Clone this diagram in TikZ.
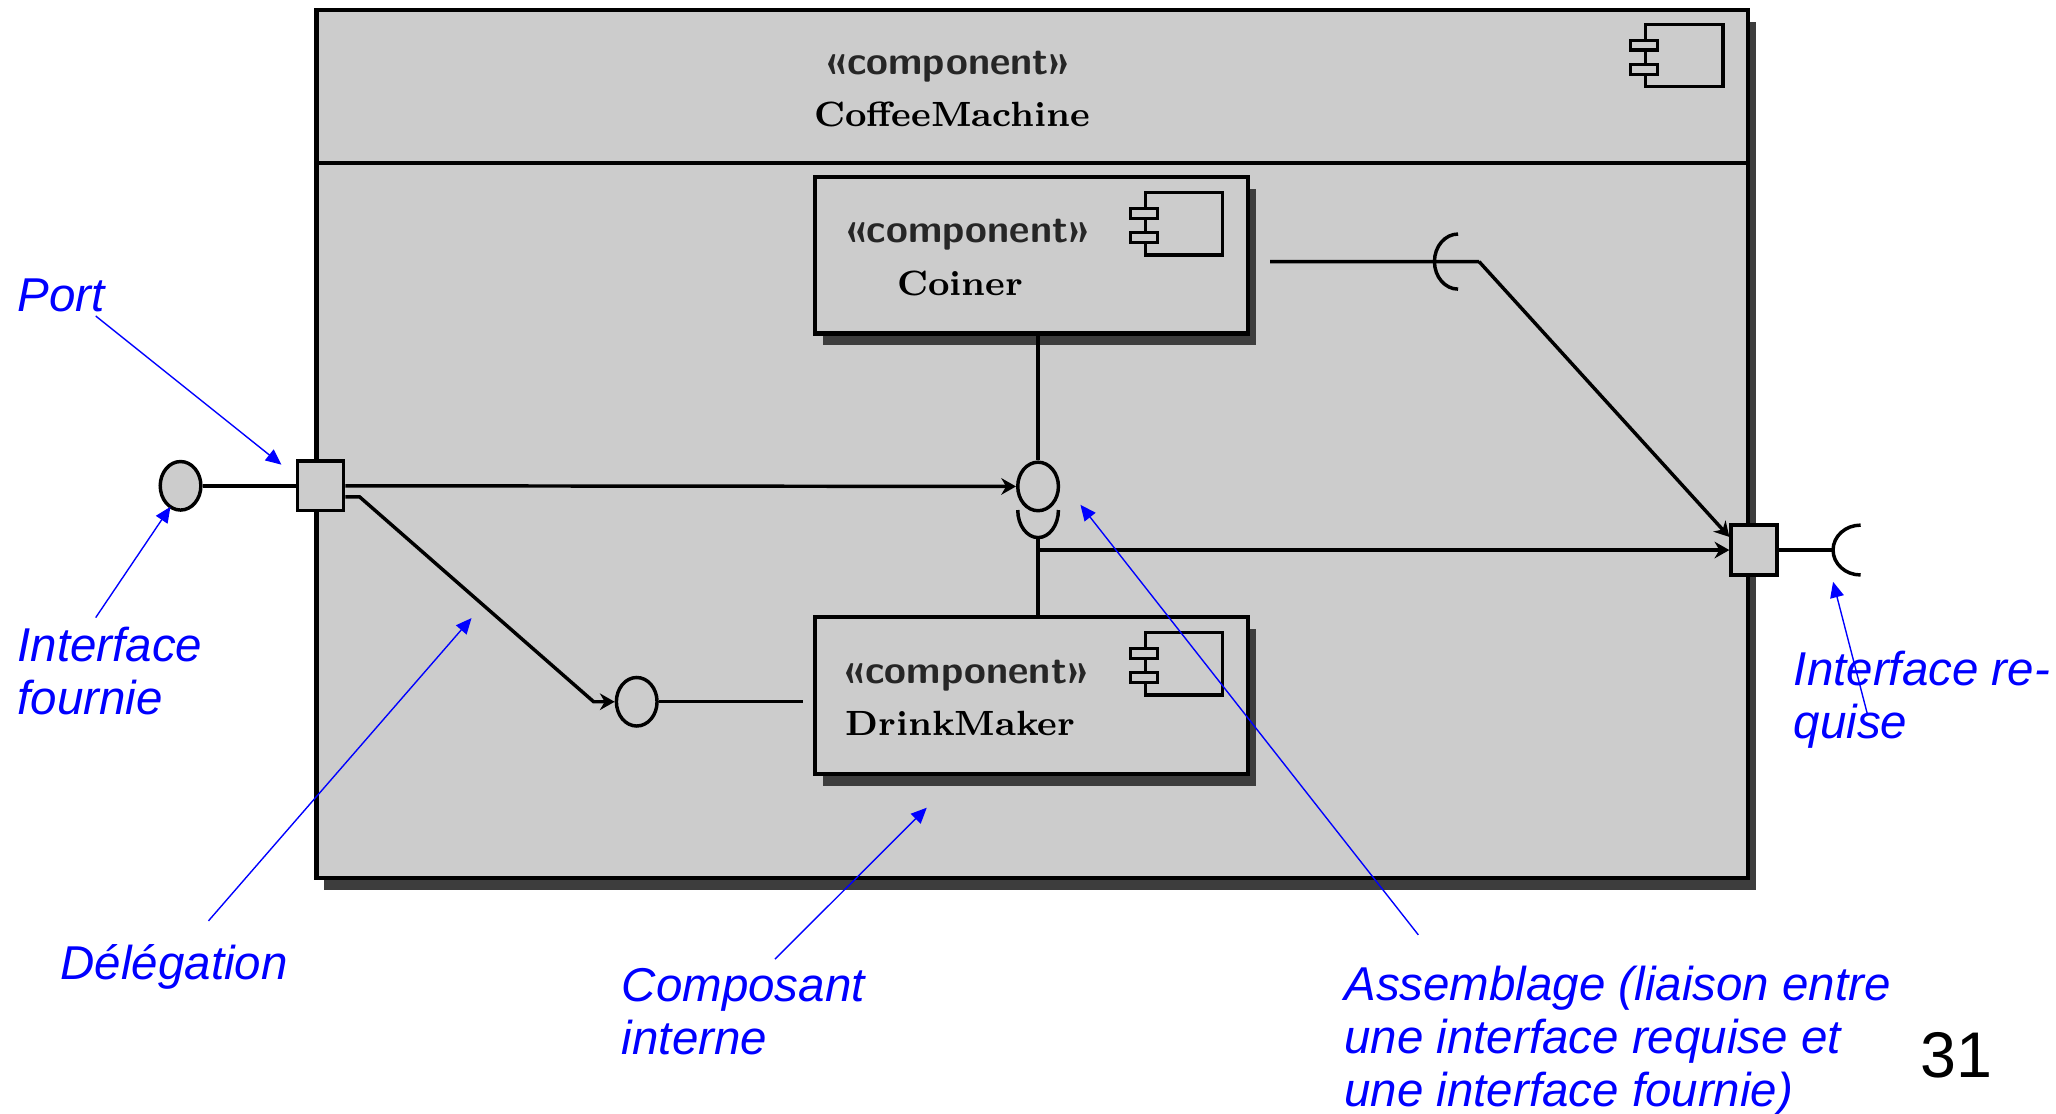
\documentclass[tikz,border=0pt]{standalone}
\usepackage{fontspec}
\newfontfamily\notefont{Liberation Sans}
\usetikzlibrary{arrows.meta,shapes.geometric,shadows}
\definecolor{boxgray}{HTML}{CCCCCC}
\definecolor{shadegray}{HTML}{3D3D3D}
\begin{document}
\begin{tikzpicture}[line cap=butt,line join=miter,>=stealth,x=0.01cm,y=-0.01cm]
	\tikzset{comp/.style={draw,line width=0.9pt,fill=boxgray,inner sep=0pt,drop shadow={shadow xshift=0.06cm,shadow yshift=-0.09cm,opacity=1,fill=shadegray}},
		ball/.style={ellipse,draw,line width=0.75pt,fill=boxgray,minimum width=0.31cm,minimum height=0.37cm,inner sep=0pt},
		port/.style={draw,line width=0.75pt,fill=boxgray,minimum width=0.35cm,minimum height=0.38cm,inner sep=0pt},
		wire/.style={line width=0.75pt},
		deleg/.style={wire,-{Stealth[length=3.2pt,width=3.6pt]}},
		stereo/.style={anchor=base,inner sep=0pt,text=black!85,font=\sffamily\bfseries\fontsize{8.6}{9}\selectfont},
		cname/.style={anchor=base,inner sep=0pt,font=\bfseries\fontsize{7.6}{9}\selectfont},
		note/.style={anchor=base west,align=left,inner sep=0pt,text=blue,font=\notefont\itshape\fontsize{10.3}{11.45}\selectfont},
		pointer/.style={blue,line width=0.3pt,-{Triangle[length=3.4pt,width=3pt]}},
		compicon/.pic={\draw[line width=0.7pt] (0,0) rectangle (59,47.5);
			\draw[line width=0.7pt,fill=boxgray] (-11.5,12) rectangle (9,19.5) (-11.5,30.5) rectangle (9,38);}}
	\useasboundingbox (0,0) rectangle (1568,849.6);
	\node[comp,minimum width=10.91cm,minimum height=6.62cm] (machine) at (787.2,338.6) {};
	\draw[line width=0.9pt] ([yshift=-1.183cm]machine.north west)--([yshift=-1.183cm]machine.north east);
	\node[comp,minimum width=3.3cm,minimum height=1.19cm] (coiner) at (786.5,194.8) {};
	\node[comp,minimum width=3.3cm,minimum height=1.2cm] (drink) at (786.7,530.4) {};
	\foreach \p in {(1255,18.6),(873.5,147),(873.5,482.6)} \pic at \p {compicon};
	\node[stereo] (machinest) at (723,57) {«component»};
	\node[cname] (machinenm) at (726,96.6) {CoffeeMachine};
	\node[stereo] (coinerst) at (738,185) {«component»};
	\node[cname] (coinernm) at (732.3,225.6) {Coiner};
	\node[stereo] (drinkst) at (737,521) {«component»};
	\node[cname] (drinknm) at (732.5,560.7) {DrinkMaker};
	\node[port] (portL) at (244.5,370.5) {};
	\node[port] (portR) at (1337.7,419.5) {};
	\node[ball] (ballL) at (137.7,370.5) {};
	\node[ball] (ballC) at (791.7,371) {};
	\node[ball] (ballD) at (485.6,535.2) {};
	\coordinate (cupA) at (791.7,410);
	\coordinate (sockC) at (1112,199.5);
	\coordinate (bendC) at (1128,199.5);
	\coordinate (sockR) at (1419,419.5);
	\draw[wire] (ballL.east)--(portL.west);
	\draw[deleg] (portL.east)--(ballC.west);
	\draw[deleg] ([yshift=-0.085cm]portL.east)--++(11,0)--([xshift=-0.16cm]ballD.west)--(ballD.west);
	\draw[wire] (ballD.east)--([xshift=-0.075cm]drink.west |- ballD.east);
	\draw[wire] (ballC|-coiner.south)--(ballC.north);
	\draw[wire] ([shift={(-0.155cm,0.21cm)}]cupA) arc[start angle=180,end angle=360,x radius=0.155cm,y radius=0.21cm];
	\draw[wire] (cupA)--(cupA|-drink.north);
	\draw[deleg] (cupA|-portR.west)--(portR.west);
	\draw[wire] ([shift={(0.155cm,-0.047cm)}]coiner.east)--(bendC);
	\draw[wire] ([yshift=0.21cm]sockC) arc[start angle=90,end angle=270,x radius=0.18cm,y radius=0.21cm];
	\draw[deleg] (bendC)--([yshift=0.1cm]portR.west);
	\draw[wire] (portR.east)--([xshift=-0.21cm]sockR);
	\draw[wire] ([yshift=0.19cm]sockR) arc[start angle=90,end angle=270,x radius=0.21cm,y radius=0.19cm];
	\node[note] (portnote) at (12.7,237.8) {Port};
	\node[note] (ifnote) at (12.7,544.6) {Interface\\fournie};
	\node[note] (delegnote) at (45.5,746.8) {Délégation};
	\node[note] (compnote) at (473.6,804) {Composant\\interne};
	\node[note] (assnote) at (1024.6,843.6) {Assemblage (liaison entre\\une interface requise et\\une interface fournie)};
	\node[note] (reqnote) at (1367.4,563) {Interface re-\\quise};
	\node[anchor=base west,inner sep=0pt,font=\notefont\fontsize{14}{16}\selectfont] (pagenum) at (1464,822) {31};
	\coordinate (portfrom) at (73,241);
	\coordinate (iffrom) at (73,471);
	\coordinate (iftip) at (130,386.5);
	\coordinate (delegfrom) at (159,702.3);
	\coordinate (delegtip) at (359.6,471.4);
	\coordinate (compfrom) at (591,731.5);
	\coordinate (comptip) at (706.8,616);
	\coordinate (assfrom) at (1081.7,713);
	\coordinate (asstip) at (824,385);
	\coordinate (reqfrom) at (1424,544);
	\coordinate (reqtip) at (1398,443.7);
	\draw[pointer] (portfrom)--([shift={(-0.11cm,-0.042cm)}]portL.north west);
	\draw[pointer] (iffrom)--(iftip);
	\draw[pointer] (delegfrom)--(delegtip);
	\draw[pointer] (compfrom)--(comptip);
	\draw[pointer] (assfrom)--(asstip);
	\draw[pointer] (reqfrom)--(reqtip);
\end{tikzpicture}
\end{document}
